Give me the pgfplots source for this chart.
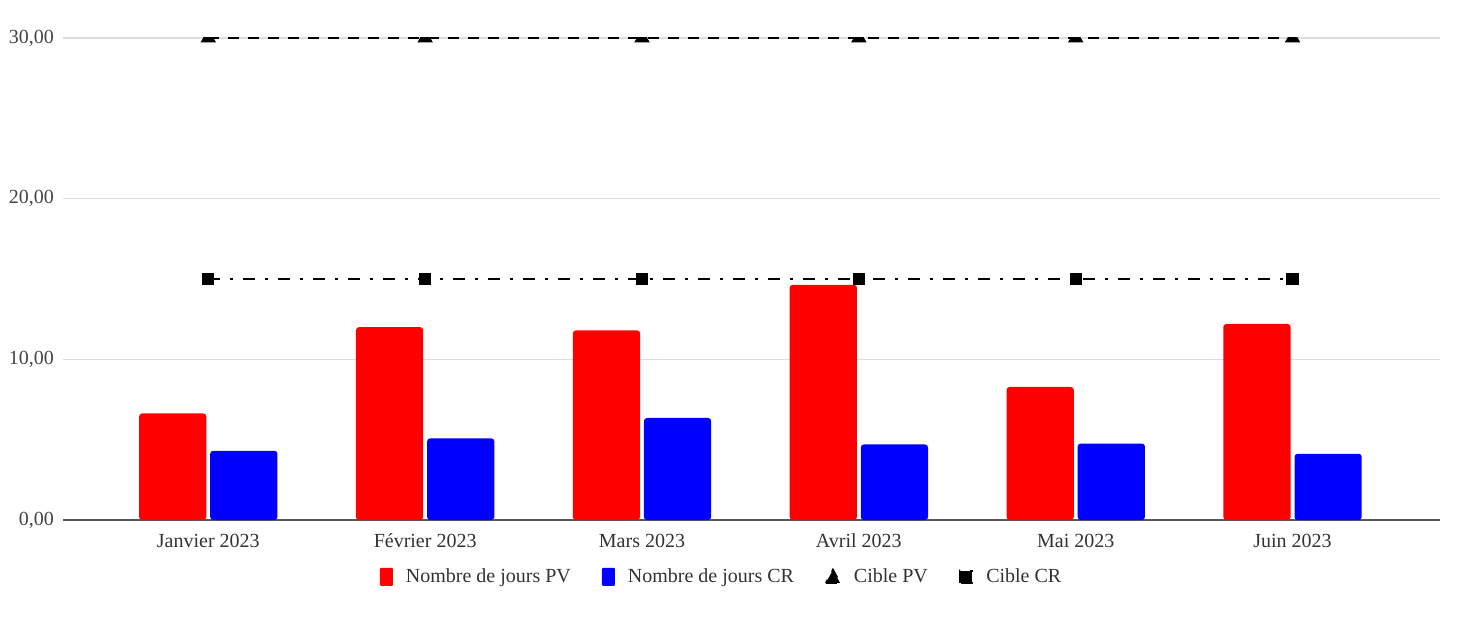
\documentclass[border=0pt]{standalone}
\usepackage{pgfplots}
\pgfplotsset{compat=1.18}
\usepackage{fontspec}
\setmainfont{Liberation Serif}

\definecolor{pvred}{HTML}{FF0000}
\definecolor{crblue}{HTML}{0000FF}
\definecolor{gridgray}{HTML}{DDDDDD}
\definecolor{ticktext}{HTML}{444444}

\begin{document}
\begin{tikzpicture}
% page is 1470x616 px at 0.5pt per px; axis box lower left at px (63,520)
\path[use as bounding box] (-31.5pt,-48pt) rectangle (703.5pt,260pt);
\begin{axis}[
scale only axis,
width=688.5pt,
height=241pt,
xmin=-0.67, xmax=5.68,
ymin=0, ymax=30,
xtick={0,1,2,3,4,5},
xticklabels={Janvier 2023,Février 2023,Mars 2023,Avril 2023,Mai 2023,Juin 2023},
ytick={0,10,20,30},
ymajorgrids,
grid style={gridgray, line width=0.75pt},
major tick length=0pt,
axis x line*=bottom,
axis y line*=left,
x axis line style={draw=black!65, line width=0.75pt, -},
y axis line style={draw=none},
tick label style={font=\fontsize{10pt}{12pt}\selectfont, text=ticktext},
xticklabel style={yshift=-3.5pt, text=black!80},
yticklabel style={xshift=-1pt},
/pgf/number format/.cd, fixed, fixed zerofill, precision=2, use comma, assume math mode=true,
/pgfplots/.cd,
clip marker paths=true,
legend columns=4,
legend style={draw=none, at={(0.479,-0.118)}, anchor=center,
  font=\fontsize{10pt}{12pt}\selectfont, text=black!80,
  /tikz/every odd column/.append style={column sep=4.5pt},
  /tikz/every even column/.append style={column sep=13.5pt}},
legend cell align=left,
]

\addplot[ybar, bar width=0.31, bar shift=-0.164, fill=pvred, draw=none, rounded corners=1.5pt,
  legend image code/.code={\fill[pvred, rounded corners=0.5pt] (0pt,-4.5pt) rectangle (6.5pt,4.5pt);}]
coordinates {(0,6.63) (1,12.0) (2,11.8) (3,14.64) (4,8.28) (5,12.2)};
\addlegendentry{Nombre de jours PV}

\addplot[ybar, bar width=0.31, bar shift=0.164, fill=crblue, draw=none, rounded corners=1.5pt,
  legend image code/.code={\fill[crblue, rounded corners=0.5pt] (0pt,-4.5pt) rectangle (6.5pt,4.5pt);}]
coordinates {(0,4.31) (1,5.08) (2,6.35) (3,4.70) (4,4.76) (5,4.12)};
\addlegendentry{Nombre de jours CR}

\addplot[black, line width=1pt, dash pattern=on 5.5pt off 4.5pt,
  mark=triangle*, mark size=3.5pt, mark options={solid},
  legend image code/.code={\fill[black] (0pt,-3pt) -- (7pt,-3pt) -- (3.5pt,3.5pt) -- cycle;}]
coordinates {(0,30) (1,30) (2,30) (3,30) (4,30) (5,30)};
\addlegendentry{Cible PV}

\addplot[black, line width=1.2pt, dash pattern=on 6pt off 5pt on 1.5pt off 5pt,
  mark=square*, mark size=2.5pt, mark options={solid},
  legend image code/.code={\fill[black] (0pt,-3pt) rectangle (6pt,3pt);}]
coordinates {(0,15) (1,15) (2,15) (3,15) (4,15) (5,15)};
\addlegendentry{Cible CR}

\end{axis}
\end{tikzpicture}
\end{document}
